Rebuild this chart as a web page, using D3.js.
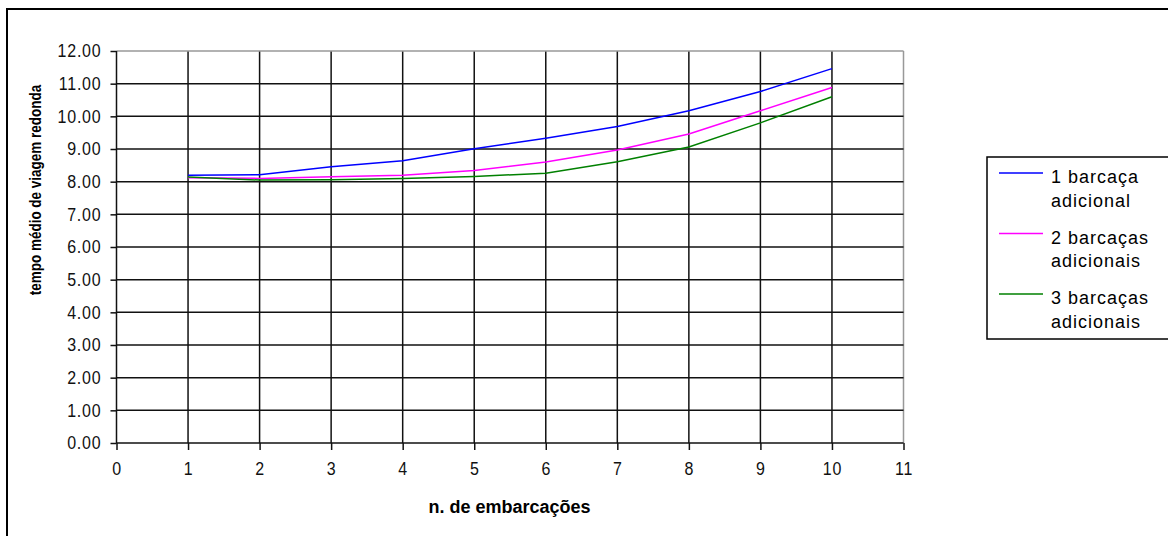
<!DOCTYPE html>
<html>
<head>
<meta charset="utf-8">
<script src="https://cdn.jsdelivr.net/npm/d3@7"></script>
<style>
  body { margin: 0; background: #fff; }
  svg { display: block; font-family: Arial, "Liberation Sans", sans-serif; }
</style>
</head>
<body>
<div id="chart"></div>
<script>
// data
var embarcacoes = [1, 2, 3, 4, 5, 6, 7, 8, 9, 10];
var uma = [8.20, 8.21, 8.46, 8.64, 9.01, 9.33, 9.69, 10.17, 10.76, 11.46];
var duas = [8.12, 8.10, 8.15, 8.20, 8.34, 8.60, 8.97, 9.46, 10.17, 10.88];
var tres = [8.14, 8.05, 8.06, 8.10, 8.16, 8.26, 8.61, 9.06, 9.80, 10.60];
var seriesNames = [["1 barcaça", "adicional"], ["2 barcaças", "adicionais"], ["3 barcaças", "adicionais"]];
var seriesColors = ["#0000ff", "#ff00ff", "#008000"];
var xTicks = d3.range(0, 12);
var yTicks = d3.range(0, 13);

var svgWidth = 1168;
var svgHeight = 536;

var svg = d3.select("#chart")
  .append("svg")
  .attr("width", svgWidth)
  .attr("height", svgHeight);

// outer frame
svg.append("rect")
  .attr("x", 7).attr("y", 9)
  .attr("width", 1180).attr("height", 560)
  .attr("fill", "none")
  .attr("stroke", "#000")
  .attr("stroke-width", 2);

var xScale = d3.scaleLinear().domain([0, 11]).range([116.5, 903.5]);
var yScale = d3.scaleLinear().domain([0, 12]).range([443, 51]);

// gridlines
var grid = svg.append("g");
grid.selectAll(".vg")
  .data(xTicks.filter(d => d > 0))
  .enter().append("line")
  .attr("x1", d => xScale(d)).attr("x2", d => xScale(d))
  .attr("y1", yScale(12)).attr("y2", yScale(0))
  .attr("stroke", d => d === 11 ? "#999" : "#111")
  .attr("stroke-width", 1.5);
grid.selectAll(".hg")
  .data(yTicks.filter(d => d > 0))
  .enter().append("line")
  .attr("x1", xScale(0)).attr("x2", xScale(11))
  .attr("y1", d => yScale(d)).attr("y2", d => yScale(d))
  .attr("stroke", d => d === 12 ? "#999" : "#111")
  .attr("stroke-width", 1.5);

// axes
var bottomAxis = d3.axisBottom(xScale).tickValues(xTicks).tickSize(7).tickPadding(12);
var leftAxis = d3.axisLeft(yScale).tickValues(yTicks).tickSize(6).tickPadding(9)
  .tickFormat(d3.format(".2f"));

var gx = svg.append("g")
  .attr("transform", `translate(0, ${yScale(0)})`)
  .call(bottomAxis);
var gy = svg.append("g")
  .attr("transform", `translate(${xScale(0)}, 0)`)
  .call(leftAxis);

[gx, gy].forEach(function(g) {
  g.selectAll("path, line").attr("stroke", "#111").attr("stroke-width", 1.5);
  g.selectAll("text")
    .attr("fill", "#111")
    .style("font-size", "16px")
    .style("letter-spacing", "0.8px");
});
gy.selectAll("text").attr("transform", "scale(1,1.12)");
gx.selectAll("text").attr("transform", "translate(0,-2) scale(1,1.12)");
gx.select(".domain").attr("d", `M${xScale(0)},0H${xScale(11)}`);
gy.select(".domain").attr("d", `M0,${yScale(0)}V${yScale(12)}`);

// lines
var seriesData = [uma, duas, tres];
var line = d3.line()
  .x((d, i) => xScale(embarcacoes[i]))
  .y(d => yScale(d));

svg.append("g")
  .selectAll("path")
  .data(seriesData)
  .enter()
  .append("path")
  .attr("d", d => line(d))
  .attr("fill", "none")
  .attr("stroke", (d, i) => seriesColors[i])
  .attr("stroke-width", 1.5);

// axes titles
svg.append("text")
  .attr("transform", "translate(41, 190) rotate(-90) scale(1,1.25)")
  .attr("text-anchor", "middle")
  .style("font-size", "13.5px")
  .style("font-weight", "bold")
  .text("tempo médio de viagem redonda");

svg.append("text")
  .attr("x", 509.5)
  .attr("y", 513)
  .attr("text-anchor", "middle")
  .style("font-size", "18px")
  .style("font-weight", "bold")
  .text("n. de embarcações");

// legend
var legend = svg.append("g");
legend.append("rect")
  .attr("x", 987).attr("y", 157)
  .attr("width", 220).attr("height", 182)
  .attr("fill", "#fff")
  .attr("stroke", "#000")
  .attr("stroke-width", 1.5);

var entry = legend.selectAll(".entry")
  .data(seriesNames)
  .enter().append("g")
  .attr("transform", (d, i) => `translate(0, ${173 + i * 60.5})`);

entry.append("line")
  .attr("x1", 999).attr("x2", 1043)
  .attr("y1", 0).attr("y2", 0)
  .attr("stroke", (d, i) => seriesColors[i])
  .attr("stroke-width", 1.5);

entry.append("text")
  .attr("x", 1051).attr("y", 10)
  .style("font-size", "18px")
  .style("letter-spacing", "1px")
  .text(d => d[0]);
entry.append("text")
  .attr("x", 1051).attr("y", 33.5)
  .style("font-size", "18px")
  .style("letter-spacing", "1px")
  .text(d => d[1]);
</script>
</body>
</html>
